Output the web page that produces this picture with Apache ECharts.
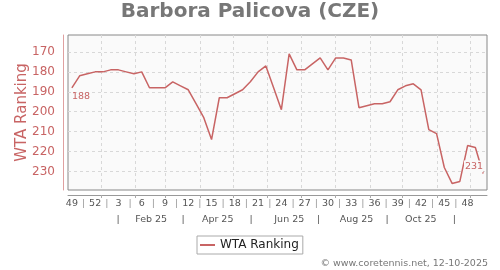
<!DOCTYPE html>
<html><head><meta charset="utf-8">
<script src="https://cdn.jsdelivr.net/npm/echarts@6/dist/echarts.min.js"></script>
<style>html,body{margin:0;padding:0;background:#fff}#c{width:500px;height:270px}</style>
</head><body><div id="c"></div>
<script>
const titleText = 'Barbora Palicova (CZE)';
const seriesName = 'WTA Ranking';
const credit = '\u00A9 www.coretennis.net, 12-10-2025';
// ISO week numbers, Dec 2024 -> Dec 2025
const weeks = [49,50,51,52,1,2,3,4,5,6,7,8,9,10,11,12,13,14,15,16,17,18,19,20,21,22,23,24,25,26,27,28,29,30,31,32,33,34,35,36,37,38,39,40,41,42,43,44,45,46,47,48,49,50];
const ranking = [188,182,181,180,180,179,179,180,181,180,188,188,188,185,187,189,196,203,214,193,193,191,189,185,180,177,188,199,171,179,179,176,173,179,173,173,174,198,197,196,196,195,189,187,186,189,209,211,228,236,235,217,218,231];
const yTicks = [170,180,190,200,210,220,230];
// positions on the week index scale
const monthGridPos = [3.73,8.11,12.06,16.5,20.85,25.2,29.5,34.0,38.4,42.6,47.1,51.4];
const weekSepPos = [1.5,4.5,7.5,10.5,13.5,16.5,19.5,22.5,25.5,28.5,31.5,34.5,37.5,40.5,43.5,46.5,49.5];
const monthLabels = ['Feb 25','Apr 25','Jun 25','Aug 25','Oct 25'];
const monthLabelPos = [10.22,18.79,28.02,36.68,44.97];
const monthSepPos = [5.97,14.34,23.09,31.79,40.63,49.29];

const lineColor = '#c86464';
const last = ranking.length - 1;
const seriesData = ranking.map((v, i) => {
  if (i === 0) return {value: v, label: {show: true, position: 'bottom', align: 'left', distance: 4, color: lineColor, fontSize: 9.5}};
  if (i === last) return {value: v, label: {show: true, position: 'top', align: 'right', distance: 1, color: lineColor, fontSize: 9.5, backgroundColor: '#fafafa', padding: [1, 0, 1, 1]}};
  return v;
});

const chart = echarts.init(document.getElementById('c'), null, {renderer: 'canvas'});
chart.setOption({
  animation: false,
  textStyle: {fontFamily: 'DejaVu Sans'},
  title: [
    {text: titleText, left: 'center', top: 2, padding: 0, textStyle: {fontSize: 20, fontWeight: 'bold', color: '#777', fontFamily: 'DejaVu Sans'}},
    {text: credit, right: 12, top: 259, padding: 0, textStyle: {fontSize: 9.5, fontWeight: 'normal', color: '#777', fontFamily: 'DejaVu Sans'}}
  ],
  legend: {
    data: [seriesName], left: 197, top: 236, padding: [3, 4, 3, 3],
    borderColor: '#aaa', borderWidth: 1, backgroundColor: '#fff',
    icon: 'rect', itemWidth: 15, itemHeight: 2, itemGap: 5,
    textStyle: {fontSize: 12, color: '#222', fontFamily: 'DejaVu Sans'}
  },
  grid: {left: 68, right: 13, top: 35, bottom: 80, show: true, backgroundColor: '#fafafa', borderColor: '#888', borderWidth: 1},
  xAxis: [
    {type: 'category', data: weeks, boundaryGap: true, position: 'bottom', offset: 5,
     axisLine: {show: true, onZero: false, lineStyle: {color: '#999'}}, axisTick: {show: false},
     axisLabel: {interval: 2, margin: 4, fontSize: 9.5, color: '#555', fontFamily: 'DejaVu Sans'},
     splitLine: {show: false}},
    {type: 'value', min: -0.5, max: 53.5, position: 'bottom', offset: 5,
     axisLine: {show: false, onZero: false},
     axisTick: {show: true, customValues: monthGridPos, length: 3, lineStyle: {color: '#aaa'}},
     axisLabel: {customValues: weekSepPos, formatter: () => '|', margin: 4, fontSize: 9.5, color: '#999'},
     splitLine: {show: true, lineStyle: {type: [3, 3], color: '#d8d8d8'}}},
    {type: 'value', min: -0.5, max: 53.5, position: 'bottom', offset: 21,
     axisLine: {show: false, onZero: false}, axisTick: {show: false},
     axisLabel: {customValues: monthLabelPos.concat(monthSepPos),
       formatter: v => { const k = monthLabelPos.indexOf(v); return k >= 0 ? monthLabels[k] : '|'; },
       margin: 4, fontSize: 9.5, color: '#555', fontFamily: 'DejaVu Sans'},
     splitLine: {show: false}}
  ],
  yAxis: {
    type: 'value', inverse: true, min: 161.5, max: 239.3, position: 'left', offset: 5,
    axisLine: {show: true, onZero: false, lineStyle: {color: '#dfa0a0'}},
    axisTick: {show: false, customValues: yTicks},
    axisLabel: {customValues: yTicks, fontSize: 12, color: lineColor, margin: 8, fontFamily: 'DejaVu Sans'},
    splitLine: {show: true, lineStyle: {type: [3, 3], color: '#d8d8d8'}},
    name: seriesName, nameLocation: 'middle', nameGap: 33, nameRotate: 90, nameMoveOverlap: false,
    nameTextStyle: {fontSize: 15, color: lineColor, fontFamily: 'DejaVu Sans'}
  },
  series: [{
    name: seriesName, type: 'line', data: seriesData, xAxisIndex: 0,
    symbol: 'circle', symbolSize: 0, showSymbol: true,
    lineStyle: {color: lineColor, width: 1.5}, itemStyle: {color: lineColor},
    emphasis: {disabled: true}
  }]
});
</script></body></html>
